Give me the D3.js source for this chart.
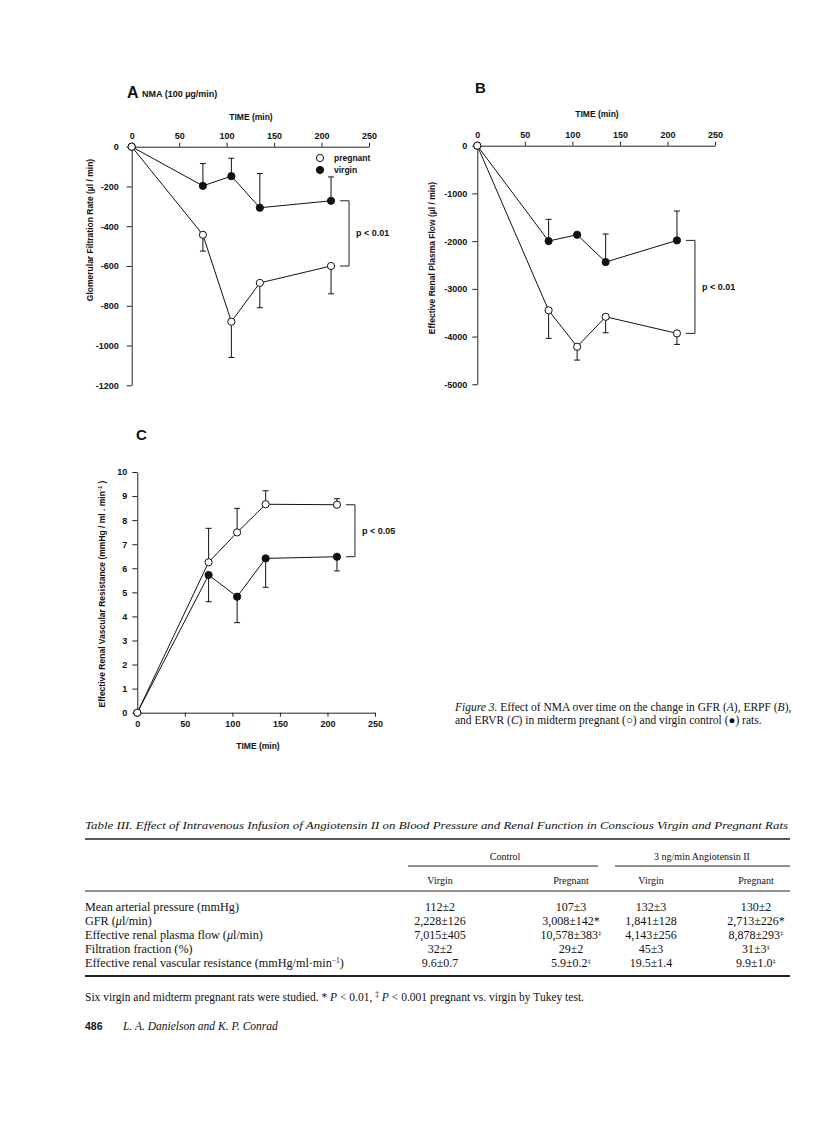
<!DOCTYPE html>
<html>
<head>
<meta charset="utf-8">
<style>
  body { margin: 0; background: #fff; }
  svg text { fill: #111; }
  .sans { font-family: "Liberation Sans", Arial, sans-serif; font-weight: bold; }
  .serif { font-family: "Liberation Serif", "Times New Roman", serif; }
  .axis path, .axis line { stroke: #222; stroke-width: 1; }
  .axis text { font-family: "Liberation Sans", Arial, sans-serif; font-weight: bold; font-size: 9px; fill: #111; }
</style>
</head>
<body>
<svg id="page" width="816" height="1135"></svg>
<script src="https://d3js.org/d3.v7.min.js"></script>
<script>
// time points (min)
var times = [0, 75, 105, 135, 210];
var timeTicks = [0, 50, 100, 150, 200, 250];

// A: GFR change (ul/min)
var gfrPregnant = [0, -443, -880, -685, -600];
var gfrPregnantErr = [null, -525, -1060, -810, -740];
var gfrVirgin = [0, -197, -148, -307, -272];
var gfrVirginErr = [null, -85, -58, -135, -152];
var gfrTicks = [0, -200, -400, -600, -800, -1000, -1200];

// B: ERPF change (ul/min)
var erpfPregnant = [0, -3450, -4213, -3585, -3933];
var erpfPregnantErr = [null, -4038, -4493, -3920, -4164];
var erpfVirgin = [0, -1998, -1866, -2438, -1984];
var erpfVirginErr = [null, -1543, null, -1851, -1369];
var erpfTicks = [0, -1000, -2000, -3000, -4000, -5000];

// C: ERVR
var ervrPregnant = [0, 6.25, 7.49, 8.66, 8.64];
var ervrPregnantErr = [null, 7.66, 8.49, 9.22, 8.89];
var ervrVirgin = [0, 5.72, 4.82, 6.41, 6.48];
var ervrVirginErr = [null, 4.61, 3.74, 5.21, 5.89];
var ervrTicks = [0, 1, 2, 3, 4, 5, 6, 7, 8, 9, 10];

// Table III
var rowLabels = ["Mean arterial pressure (mmHg)", "GFR (μl/min)", "Effective renal plasma flow (μl/min)",
  "Filtration fraction (%)", "Effective renal vascular resistance (mmHg/ml·min^−1)"];
var controlVirgin = ["112±2", "2,228±126", "7,015±405", "32±2", "9.6±0.7"];
var controlPregnant = ["107±3", "3,008±142*", "10,578±383‡", "29±2", "5.9±0.2‡"];
var angVirgin = ["132±3", "1,841±128", "4,143±256", "45±3", "19.5±1.4"];
var angPregnant = ["130±2", "2,713±226*", "8,878±293‡", "31±3‡", "9.9±1.0‡"];

var svg = d3.select("#page");
var plain = function (d) { return String(d); };

function zip(vals, errs) {
  return times.map(function (t, i) { return { t: t, v: vals[i], e: errs[i] }; });
}

function panel(o) {
  var g = svg.append("g");
  var x = d3.scaleLinear().domain([0, 250]).range(o.xr);
  var y = d3.scaleLinear().domain(o.yd).range(o.yr);

  var xAxis = (o.top ? d3.axisTop(x) : d3.axisBottom(x))
    .tickValues(timeTicks).tickFormat(plain).tickSize(4).tickSizeOuter(0).tickPadding(4);
  g.append("g").attr("class", "axis")
    .attr("transform", "translate(0," + y(0) + ")").call(xAxis);
  g.append("g").attr("class", "axis")
    .attr("transform", "translate(" + x(0) + ",0)")
    .call(d3.axisLeft(y).tickValues(o.yTicks).tickFormat(plain)
      .tickSize(5).tickSizeOuter(0).tickPadding(o.pad));

  g.append("text").attr("class", "sans").attr("font-size", 8.5)
    .attr("x", o.tx).attr("y", o.ty).attr("text-anchor", "middle").text("TIME (min)");

  var yl = g.append("text").attr("class", "sans").attr("font-size", 8.5)
    .attr("text-anchor", "middle")
    .attr("transform", "translate(" + o.ylx + "," + o.yly + ") rotate(-90)");
  yl.append("tspan").text(o.ylabel);
  if (o.ysup) {
    yl.append("tspan").attr("font-size", 6).attr("dy", -3.5).text(o.ysup);
    yl.append("tspan").attr("dy", 3.5).text(" )");
  }

  var line = d3.line().x(function (d) { return x(d.t); }).y(function (d) { return y(d.v); });
  var series = [zip(o.virgin, o.virginErr), zip(o.pregnant, o.pregnantErr)];

  series.forEach(function (s) {
    g.append("path").datum(s).attr("d", line)
      .attr("fill", "none").attr("stroke", "#111").attr("stroke-width", 1);
    s.forEach(function (d) {
      if (d.e === null) return;
      g.append("line").attr("x1", x(d.t)).attr("x2", x(d.t))
        .attr("y1", y(d.v)).attr("y2", y(d.e)).attr("stroke", "#111");
      g.append("line").attr("x1", x(d.t) - 3).attr("x2", x(d.t) + 3)
        .attr("y1", y(d.e)).attr("y2", y(d.e)).attr("stroke", "#111");
    });
  });
  series.forEach(function (s, k) {
    g.selectAll(null).data(s).enter().append("circle")
      .attr("cx", function (d) { return x(d.t); })
      .attr("cy", function (d) { return y(d.v); })
      .attr("r", 3.6)
      .attr("fill", k === 0 ? "#111" : "#fff")
      .attr("stroke", "#111").attr("stroke-width", 1);
  });

  // significance bracket between the last points
  var last = times.length - 1;
  var bx = x(times[last]) + 18;
  var b1 = y(o.virgin[last]), b2 = y(o.pregnant[last]);
  g.append("path").attr("fill", "none").attr("stroke", "#222")
    .attr("d", "M" + (bx - 9) + "," + b1 + "H" + bx + "V" + b2 + "H" + (bx - 9));
  g.append("text").attr("class", "sans").attr("font-size", 9)
    .attr("x", bx + 7).attr("y", (b1 + b2) / 2 + 3).text(o.p);
  return { x: x, y: y, g: g };
}

var A = panel({
  xr: [131.7, 369], yd: [0, -1200], yr: [146.7, 385.3], top: true, yTicks: gfrTicks, pad: 8,
  pregnant: gfrPregnant, pregnantErr: gfrPregnantErr, virgin: gfrVirgin, virginErr: gfrVirginErr,
  tx: 251, ty: 120, ylx: 93, yly: 230, ylabel: "Glomerular Filtration Rate (µl / min)", p: "p < 0.01"
});
var B = panel({
  xr: [477.3, 715], yd: [0, -5000], yr: [145.7, 384.3], top: true, yTicks: erpfTicks, pad: 5,
  pregnant: erpfPregnant, pregnantErr: erpfPregnantErr, virgin: erpfVirgin, virginErr: erpfVirginErr,
  tx: 597, ty: 117, ylx: 435, yly: 258, ylabel: "Effective Renal Plasma Flow (µl / min)", p: "p < 0.01"
});
var C = panel({
  xr: [137.3, 375], yd: [0, 10], yr: [712.7, 472], top: false, yTicks: ervrTicks, pad: 5,
  pregnant: ervrPregnant, pregnantErr: ervrPregnantErr, virgin: ervrVirgin, virginErr: ervrVirginErr,
  tx: 258, ty: 749, ylx: 105, yly: 594, ylabel: "Effective Renal Vascular Resistance (mmHg / ml . min",
  ysup: "-1", p: "p < 0.05"
});

// panel letters
svg.append("text").attr("class", "sans").attr("font-size", 16).attr("x", 127).attr("y", 98).text("A");
svg.append("text").attr("class", "sans").attr("font-size", 9).attr("x", 142).attr("y", 97).text("NMA (100 µg/min)");
svg.append("text").attr("class", "sans").attr("font-size", 15).attr("x", 475).attr("y", 93).text("B");
svg.append("text").attr("class", "sans").attr("font-size", 15).attr("x", 136).attr("y", 440).text("C");

// legend in A
[["pregnant", "#fff"], ["virgin", "#111"]].forEach(function (d, i) {
  svg.append("circle").attr("cx", 320).attr("cy", 158 + i * 12).attr("r", 3.6)
    .attr("fill", d[1]).attr("stroke", "#111");
  svg.append("text").attr("class", "sans").attr("font-size", 8.5)
    .attr("x", 334).attr("y", 161 + i * 12).text(d[0]);
});

// figure caption
var cap1 = svg.append("text").attr("class", "serif").attr("font-size", 11.5).attr("x", 455).attr("y", 711);
cap1.append("tspan").attr("font-style", "italic").text("Figure 3. ");
cap1.append("tspan").text("Effect of NMA over time on the change in GFR (");
cap1.append("tspan").attr("font-style", "italic").text("A");
cap1.append("tspan").text("), ERPF (");
cap1.append("tspan").attr("font-style", "italic").text("B");
cap1.append("tspan").text("),");
var cap2 = svg.append("text").attr("class", "serif").attr("font-size", 11.5).attr("x", 455).attr("y", 724);
cap2.append("tspan").text("and ERVR (");
cap2.append("tspan").attr("font-style", "italic").text("C");
cap2.append("tspan").text(") in midterm pregnant (○) and virgin control (●) rats.");

// table
var T = svg.append("g").attr("class", "serif");
T.append("text").attr("x", 85).attr("y", 829).attr("font-size", 11).attr("font-style", "italic")
  .attr("textLength", 703).attr("lengthAdjust", "spacingAndGlyphs")
  .text("Table III. Effect of Intravenous Infusion of Angiotensin II on Blood Pressure and Renal Function in Conscious Virgin and Pregnant Rats");

function rule(x1, x2, yy, w) {
  T.append("line").attr("x1", x1).attr("x2", x2).attr("y1", yy).attr("y2", yy)
    .attr("stroke", "#222").attr("stroke-width", w);
}
rule(85, 790, 839, 1.6);
rule(408, 598, 866, 1);
rule(615, 790, 866, 1);
rule(85, 790, 891, 1);
rule(85, 790, 976, 1.8);

var colX = [440, 571, 651, 756];
T.append("text").attr("x", 505).attr("y", 860).attr("font-size", 10).attr("text-anchor", "middle").text("Control");
T.append("text").attr("x", 702).attr("y", 860).attr("font-size", 10).attr("text-anchor", "middle").text("3 ng/min Angiotensin II");
["Virgin", "Pregnant", "Virgin", "Pregnant"].forEach(function (h, i) {
  T.append("text").attr("x", colX[i]).attr("y", 884).attr("font-size", 10).attr("text-anchor", "middle").text(h);
});

function label(sel, s) {
  var parts = s.split(/(μ|\^−1)/), shift = 0;
  parts.forEach(function (p) {
    if (!p) return;
    if (p === "μ") sel.append("tspan").attr("font-style", "italic").attr("dy", shift).text("μ");
    else if (p === "^−1") {
      sel.append("tspan").attr("font-size", 7.5).attr("dy", -4 + shift).text("−1");
      shift = 4;
      return;
    } else sel.append("tspan").attr("dy", shift).text(p);
    shift = 0;
  });
}
function cell(sel, s) {
  if (s.slice(-1) === "‡") {
    sel.append("tspan").text(s.slice(0, -1));
    sel.append("tspan").attr("font-size", 7).attr("dy", -4).text("‡");
  } else sel.text(s);
}

var columns = [controlVirgin, controlPregnant, angVirgin, angPregnant];
rowLabels.forEach(function (r, i) {
  var yy = 911 + i * 14;
  label(T.append("text").attr("x", 85).attr("y", yy).attr("font-size", 12.2), r);
  columns.forEach(function (col, j) {
    cell(T.append("text").attr("x", colX[j]).attr("y", yy).attr("font-size", 12)
      .attr("text-anchor", "middle"), col[i]);
  });
});

// footnote
var fn = T.append("text").attr("x", 85).attr("y", 1001).attr("font-size", 11.5);
fn.append("tspan").text("Six virgin and midterm pregnant rats were studied.  * ");
fn.append("tspan").attr("font-style", "italic").text("P");
fn.append("tspan").text(" < 0.01,  ");
fn.append("tspan").attr("font-size", 7.5).attr("dy", -4).text("‡");
fn.append("tspan").attr("dy", 4).attr("font-style", "italic").text(" P");
fn.append("tspan").text(" < 0.001 pregnant vs. virgin by Tukey test.");

// running footer
svg.append("text").attr("class", "sans").attr("font-size", 10.5).attr("x", 85).attr("y", 1030).text("486");
svg.append("text").attr("class", "serif").attr("font-size", 11.5).attr("font-style", "italic")
  .attr("x", 123).attr("y", 1030).text("L. A. Danielson and K. P. Conrad");
</script>
</body>
</html>
